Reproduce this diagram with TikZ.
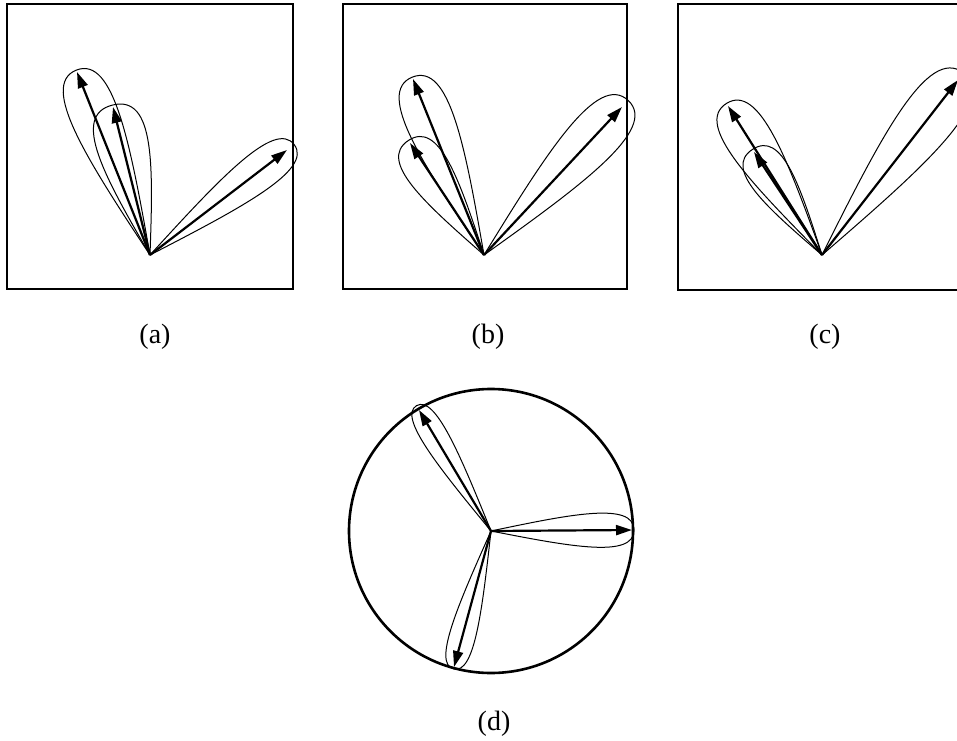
\documentclass[tikz,border=0pt]{standalone}
\usepackage{fontspec}
\setmainfont{Liberation Serif}
\usetikzlibrary{calc,arrows.meta}
\tikzset{
  frame/.style={line width=2.6pt},
  lobeline/.style={line width=1.0pt},
  vec/.style={line width=2.2pt,-{Triangle[length=16pt,width=10pt]}},
  lab/.style={font=\fontsize{28}{32}\selectfont,inner sep=0pt},
  pics/lobe/.style n args={2}{code={
    \draw[lobeline] (0,0) .. controls ({0.55*(#1)},{0.94*(#2)}) and ({(#1)},{1.69*(#2)}) .. ({(#1)},0)
       .. controls ({(#1)},{-1.69*(#2)}) and ({0.55*(#1)},{-0.94*(#2)}) .. (0,0);
  }}
}
\begin{document}
\begin{tikzpicture}[x=1pt,y=1pt]
\useasboundingbox (0,0) rectangle (957,740);
\clip (0,0) rectangle (957,740);
% frames
\draw[frame] (7,736) rectangle (293,451);
\draw[frame] (343,736) rectangle (627,451);
\draw[frame] (678,736) rectangle (980,450);
% origins and tips
\coordinate (Oa) at (150,485);
\coordinate (A1) at (77,668);
\coordinate (A2) at (113,633);
\coordinate (A3) at (287,590);
\coordinate (Ob) at (484,485);
\coordinate (B1) at (413,661);
\coordinate (B2) at (410,597);
\coordinate (B3) at (622,633);
\coordinate (Oc) at (822,485);
\coordinate (C1) at (728,634);
\coordinate (C2) at (754,588);
\coordinate (C3) at (958,660);
\coordinate (Od) at (491,209);
\coordinate (D1) at (419,330);
\coordinate (D2) at (632,210);
\coordinate (D3) at (454,73);
% circle
\draw[frame] (Od) circle[radius=142];
% lobes
\foreach \o/\t/\w/\e in {Oa/A1/24/2, Oa/A2/26/2, Oa/A3/19/9,
                         Ob/B1/24/2, Ob/B2/22/3, Ob/B3/25/9,
                         Oc/C1/23/3, Oc/C2/21/3, Oc/C3/27/9,
                         Od/D1/13/5, Od/D2/17/2, Od/D3/13/2}{
  \path let \p1=($(\t)-(\o)$), \n1={atan2(\y1,\x1)}, \n2={veclen(\x1,\y1)} in
    (\o) pic[rotate=\n1] {lobe={\n2+\e}{\w}};
}
% vectors
\foreach \o/\t in {Oa/A1, Oa/A2, Oa/A3, Ob/B1, Ob/B2, Ob/B3, Oc/C1, Oc/C2, Oc/C3, Od/D1, Od/D2, Od/D3}{
  \draw[vec] (\o) -- (\t);
}
% labels
\node[lab] (la) at (155,403) {(a)};
\node[lab] (lb) at (488,403) {(b)};
\node[lab] (lc) at (825,403) {(c)};
\node[lab] (ld) at (494,16) {(d)};
\end{tikzpicture}
\end{document}
